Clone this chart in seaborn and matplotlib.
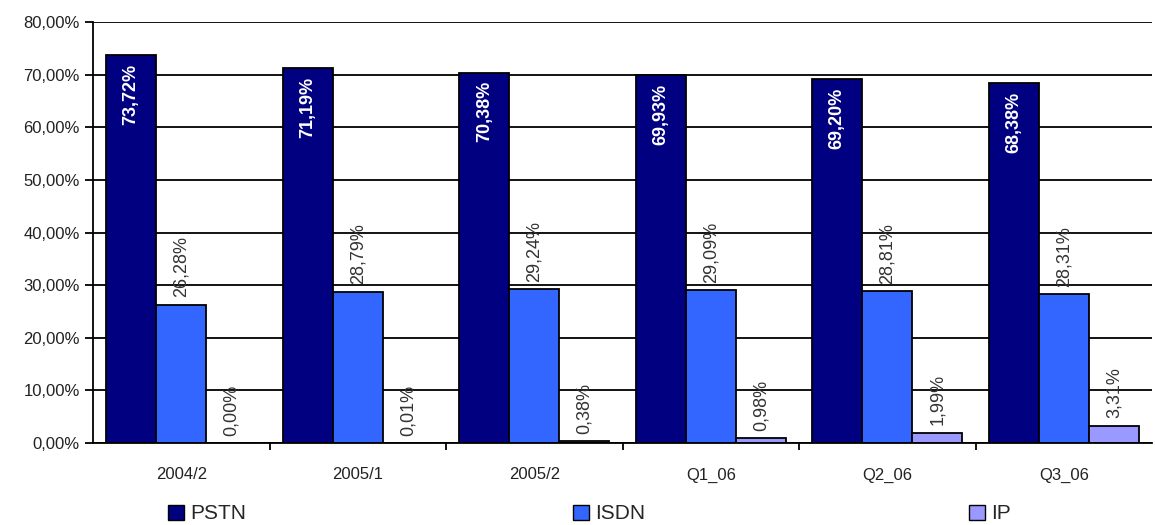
import pandas as pd
import matplotlib
matplotlib.use("Agg")
import matplotlib.pyplot as plt
import seaborn as sns
from matplotlib.patches import Patch
from matplotlib.ticker import FuncFormatter, MultipleLocator

# data
periods = ["2004/2", "2005/1", "2005/2", "Q1_06", "Q2_06", "Q3_06"]
pstn = [73.72, 71.19, 70.38, 69.93, 69.20, 68.38]
isdn = [26.28, 28.79, 29.24, 29.09, 28.81, 28.31]
ip = [0.00, 0.01, 0.38, 0.98, 1.99, 3.31]
series = ["PSTN", "ISDN", "IP"]
colors = ["#000080", "#3366FF", "#9999FF"]

df = pd.DataFrame({
    "period": periods * 3,
    "type": ["PSTN"] * 6 + ["ISDN"] * 6 + ["IP"] * 6,
    "share": pstn + isdn + ip,
})

sns.set_style("white")
plt.rcParams['font.family'] = ['Liberation Sans', 'DejaVu Sans']

fig = plt.figure(figsize=(11.55, 5.25), dpi=100)
ax = fig.add_axes([0.0805, 0.156, 0.917, 0.802])

sns.barplot(data=df, x="period", y="share", hue="type", hue_order=series,
            order=periods, palette=colors, saturation=1, width=0.85,
            edgecolor="black", linewidth=1.3, ax=ax, legend=False)

ax.set_ylim(0, 80)
ax.set_xlim(-0.5, len(periods) - 0.5)
ax.yaxis.set_major_locator(MultipleLocator(10))
ax.yaxis.set_major_formatter(FuncFormatter(lambda v, p: f"{v:.2f}%".replace(".", ",")))
ax.grid(axis="y", color="black", linewidth=1.3)
ax.set_axisbelow(True)
for s in ["top", "right"]:
    ax.spines[s].set_visible(False)
for s in ["left", "bottom"]:
    ax.spines[s].set_color("black")
    ax.spines[s].set_linewidth(1.3)
ax.set_xlabel("")
ax.set_ylabel("")
ax.tick_params(axis="y", left=True, length=6, width=1.3, labelsize=12,
               color="black", labelcolor="#222222")
ax.tick_params(axis="x", which="major", bottom=False, labelsize=12, pad=14,
               labelcolor="#222222")
ax.set_xticks([i + 0.5 for i in range(len(periods) - 1)], minor=True)
ax.tick_params(axis="x", which="minor", bottom=True, length=5, width=1.3, color="black")

# value labels
for cont, name in zip(ax.containers, series):
    for bar in cont:
        h = bar.get_height()
        x = bar.get_x() + bar.get_width() / 2
        txt = f"{h:.2f}%".replace(".", ",")
        if name == "PSTN":
            ax.text(x, h - 1.6, txt, rotation=90, ha="center", va="top",
                    color="white", fontsize=13, fontweight="bold")
        else:
            ax.text(x, h + 1.4, txt, rotation=90, ha="center", va="bottom",
                    color="#333333", fontsize=13)

# legend entries spread along the bottom
legend_x = [168, 573, 969]
for name, col, lx in zip(series, colors, legend_x):
    h = Patch(facecolor=col, edgecolor="black", linewidth=1.0)
    leg = fig.legend([h], [name], loc="center left",
                     bbox_to_anchor=(lx / 1155, 0.021), frameon=False,
                     fontsize=15, handlelength=0.75, handleheight=0.75,
                     handletextpad=0.3, borderpad=0.0, borderaxespad=0.0)

plt.savefig("out.png", dpi=100)
